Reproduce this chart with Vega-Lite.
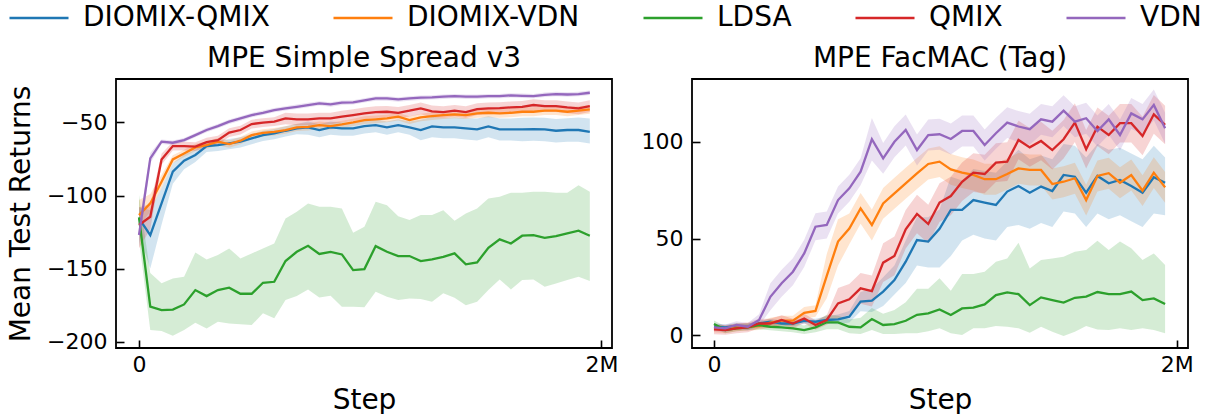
{
"$schema": "https://vega.github.io/schema/vega-lite/v6.json",
"padding": {"left": 6, "top": 4, "right": 0, "bottom": 0},
"bounds": "flush",
"spacing": 80,
"config": {
  "font": "DejaVu Sans",
  "view": {"stroke": "black", "strokeWidth": 1.8},
  "axis": {"domain": false, "grid": false, "tickColor": "black", "tickWidth": 1.6, "tickSize": -8, "labelFont": "DejaVu Sans", "labelFontSize": 22, "labelColor": "black", "titleFont": "DejaVu Sans", "titleFontSize": 28, "titleFontWeight": "normal", "titleColor": "black"},
  "axisX": {"labelPadding": 14, "titlePadding": 11},
  "axisY": {"labelPadding": 17, "titlePadding": 11},
  "title": {"font": "DejaVu Sans", "fontSize": 28, "fontWeight": "normal", "color": "black", "offset": 6}
},
"datasets": {"d": [
{"p":"A","m":"DIOMIX-QMIX","s":0,"y":-115.7,"lo":-126,"hi":-108},
{"p":"A","m":"DIOMIX-QMIX","s":48750,"y":-127.1,"lo":-150,"hi":-110},
{"p":"A","m":"DIOMIX-QMIX","s":97500,"y":-105.4,"lo":-120,"hi":-95},
{"p":"A","m":"DIOMIX-QMIX","s":146250,"y":-83.7,"lo":-92,"hi":-78},
{"p":"A","m":"DIOMIX-QMIX","s":195000,"y":-76.2,"lo":-82,"hi":-72},
{"p":"A","m":"DIOMIX-QMIX","s":243750,"y":-72.3,"lo":-77,"hi":-68.5},
{"p":"A","m":"DIOMIX-QMIX","s":292500,"y":-66.2,"lo":-70.2,"hi":-63.2},
{"p":"A","m":"DIOMIX-QMIX","s":341250,"y":-65.5,"lo":-69.5,"hi":-62.5},
{"p":"A","m":"DIOMIX-QMIX","s":390000,"y":-64.4,"lo":-68.4,"hi":-61.4},
{"p":"A","m":"DIOMIX-QMIX","s":438750,"y":-63.2,"lo":-67.2,"hi":-60.2},
{"p":"A","m":"DIOMIX-QMIX","s":487500,"y":-60.9,"lo":-64.9,"hi":-57.9},
{"p":"A","m":"DIOMIX-QMIX","s":536250,"y":-58.7,"lo":-62.7,"hi":-55.7},
{"p":"A","m":"DIOMIX-QMIX","s":585000,"y":-57.5,"lo":-61.5,"hi":-54.5},
{"p":"A","m":"DIOMIX-QMIX","s":633750,"y":-55.7,"lo":-59.7,"hi":-52.7},
{"p":"A","m":"DIOMIX-QMIX","s":682500,"y":-54.1,"lo":-58.1,"hi":-51.1},
{"p":"A","m":"DIOMIX-QMIX","s":731250,"y":-53.4,"lo":-58.4,"hi":-49.4},
{"p":"A","m":"DIOMIX-QMIX","s":780000,"y":-55.2,"lo":-60.2,"hi":-51.2},
{"p":"A","m":"DIOMIX-QMIX","s":828750,"y":-53.4,"lo":-58.4,"hi":-49.4},
{"p":"A","m":"DIOMIX-QMIX","s":877500,"y":-54.1,"lo":-59.1,"hi":-50.1},
{"p":"A","m":"DIOMIX-QMIX","s":926250,"y":-54.1,"lo":-59.1,"hi":-50.1},
{"p":"A","m":"DIOMIX-QMIX","s":975000,"y":-52.5,"lo":-57.5,"hi":-48.5},
{"p":"A","m":"DIOMIX-QMIX","s":1023750,"y":-51.8,"lo":-56.8,"hi":-47.8},
{"p":"A","m":"DIOMIX-QMIX","s":1072500,"y":-53.4,"lo":-58.4,"hi":-49.4},
{"p":"A","m":"DIOMIX-QMIX","s":1121250,"y":-51.8,"lo":-56.8,"hi":-47.8},
{"p":"A","m":"DIOMIX-QMIX","s":1170000,"y":-53.4,"lo":-58.4,"hi":-49.4},
{"p":"A","m":"DIOMIX-QMIX","s":1218750,"y":-55.2,"lo":-62.2,"hi":-48.2},
{"p":"A","m":"DIOMIX-QMIX","s":1267500,"y":-52.7,"lo":-60.2,"hi":-46.2},
{"p":"A","m":"DIOMIX-QMIX","s":1316250,"y":-53.4,"lo":-60.9,"hi":-46.9},
{"p":"A","m":"DIOMIX-QMIX","s":1365000,"y":-53.4,"lo":-60.9,"hi":-46.4},
{"p":"A","m":"DIOMIX-QMIX","s":1413750,"y":-54.1,"lo":-61.6,"hi":-47.1},
{"p":"A","m":"DIOMIX-QMIX","s":1462500,"y":-54.8,"lo":-62.3,"hi":-47.3},
{"p":"A","m":"DIOMIX-QMIX","s":1511250,"y":-52.7,"lo":-60.2,"hi":-45.7},
{"p":"A","m":"DIOMIX-QMIX","s":1560000,"y":-54.8,"lo":-62.3,"hi":-47.3},
{"p":"A","m":"DIOMIX-QMIX","s":1608750,"y":-54.8,"lo":-62.3,"hi":-47.3},
{"p":"A","m":"DIOMIX-QMIX","s":1657500,"y":-54.8,"lo":-62.8,"hi":-46.8},
{"p":"A","m":"DIOMIX-QMIX","s":1706250,"y":-54.6,"lo":-62.6,"hi":-46.6},
{"p":"A","m":"DIOMIX-QMIX","s":1755000,"y":-54.8,"lo":-62.8,"hi":-46.8},
{"p":"A","m":"DIOMIX-QMIX","s":1803750,"y":-55.7,"lo":-63.7,"hi":-47.7},
{"p":"A","m":"DIOMIX-QMIX","s":1852500,"y":-55.2,"lo":-63.2,"hi":-47.2},
{"p":"A","m":"DIOMIX-QMIX","s":1901250,"y":-55.2,"lo":-63.2,"hi":-46.7},
{"p":"A","m":"DIOMIX-QMIX","s":1950000,"y":-56.4,"lo":-64.4,"hi":-47.4},
{"p":"A","m":"DIOMIX-VDN","s":0,"y":-113.4,"lo":-121,"hi":-103},
{"p":"A","m":"DIOMIX-VDN","s":48750,"y":-105.4,"lo":-111,"hi":-99},
{"p":"A","m":"DIOMIX-VDN","s":97500,"y":-90.6,"lo":-95,"hi":-86},
{"p":"A","m":"DIOMIX-VDN","s":146250,"y":-75.3,"lo":-78,"hi":-72.5},
{"p":"A","m":"DIOMIX-VDN","s":195000,"y":-71.2,"lo":-73.7,"hi":-68.7},
{"p":"A","m":"DIOMIX-VDN","s":243750,"y":-67.1,"lo":-69.6,"hi":-64.6},
{"p":"A","m":"DIOMIX-VDN","s":292500,"y":-65.5,"lo":-68,"hi":-63},
{"p":"A","m":"DIOMIX-VDN","s":341250,"y":-63.2,"lo":-65.7,"hi":-60.7},
{"p":"A","m":"DIOMIX-VDN","s":390000,"y":-64.8,"lo":-67.3,"hi":-62.3},
{"p":"A","m":"DIOMIX-VDN","s":438750,"y":-62.5,"lo":-65,"hi":-60},
{"p":"A","m":"DIOMIX-VDN","s":487500,"y":-58.7,"lo":-61.2,"hi":-56.2},
{"p":"A","m":"DIOMIX-VDN","s":536250,"y":-57.1,"lo":-59.6,"hi":-54.6},
{"p":"A","m":"DIOMIX-VDN","s":585000,"y":-56.4,"lo":-58.9,"hi":-53.9},
{"p":"A","m":"DIOMIX-VDN","s":633750,"y":-55.2,"lo":-57.7,"hi":-52.7},
{"p":"A","m":"DIOMIX-VDN","s":682500,"y":-53.4,"lo":-55.9,"hi":-50.9},
{"p":"A","m":"DIOMIX-VDN","s":731250,"y":-53,"lo":-55.5,"hi":-50.5},
{"p":"A","m":"DIOMIX-VDN","s":780000,"y":-51.8,"lo":-54.3,"hi":-49.3},
{"p":"A","m":"DIOMIX-VDN","s":828750,"y":-52.5,"lo":-55,"hi":-50},
{"p":"A","m":"DIOMIX-VDN","s":877500,"y":-51.4,"lo":-53.9,"hi":-48.9},
{"p":"A","m":"DIOMIX-VDN","s":926250,"y":-50,"lo":-52.5,"hi":-47.5},
{"p":"A","m":"DIOMIX-VDN","s":975000,"y":-48.4,"lo":-51,"hi":-45.8},
{"p":"A","m":"DIOMIX-VDN","s":1023750,"y":-47.9,"lo":-50.5,"hi":-45.3},
{"p":"A","m":"DIOMIX-VDN","s":1072500,"y":-47.3,"lo":-49.9,"hi":-44.7},
{"p":"A","m":"DIOMIX-VDN","s":1121250,"y":-46.1,"lo":-48.7,"hi":-43.5},
{"p":"A","m":"DIOMIX-VDN","s":1170000,"y":-48.4,"lo":-51,"hi":-45.8},
{"p":"A","m":"DIOMIX-VDN","s":1218750,"y":-46.6,"lo":-49.2,"hi":-44},
{"p":"A","m":"DIOMIX-VDN","s":1267500,"y":-45.7,"lo":-48.3,"hi":-43.1},
{"p":"A","m":"DIOMIX-VDN","s":1316250,"y":-45,"lo":-47.6,"hi":-42.4},
{"p":"A","m":"DIOMIX-VDN","s":1365000,"y":-44.5,"lo":-47.1,"hi":-41.9},
{"p":"A","m":"DIOMIX-VDN","s":1413750,"y":-45,"lo":-47.6,"hi":-42.4},
{"p":"A","m":"DIOMIX-VDN","s":1462500,"y":-43.8,"lo":-46.8,"hi":-40.8},
{"p":"A","m":"DIOMIX-VDN","s":1511250,"y":-43.4,"lo":-46.4,"hi":-40.4},
{"p":"A","m":"DIOMIX-VDN","s":1560000,"y":-43.8,"lo":-46.8,"hi":-40.8},
{"p":"A","m":"DIOMIX-VDN","s":1608750,"y":-43.4,"lo":-46.4,"hi":-40.4},
{"p":"A","m":"DIOMIX-VDN","s":1657500,"y":-42.7,"lo":-45.7,"hi":-39.7},
{"p":"A","m":"DIOMIX-VDN","s":1706250,"y":-42.7,"lo":-45.7,"hi":-39.7},
{"p":"A","m":"DIOMIX-VDN","s":1755000,"y":-42,"lo":-45,"hi":-39},
{"p":"A","m":"DIOMIX-VDN","s":1803750,"y":-42,"lo":-45,"hi":-39},
{"p":"A","m":"DIOMIX-VDN","s":1852500,"y":-42.7,"lo":-45.7,"hi":-39.7},
{"p":"A","m":"DIOMIX-VDN","s":1901250,"y":-42,"lo":-45,"hi":-39},
{"p":"A","m":"DIOMIX-VDN","s":1950000,"y":-41.1,"lo":-44.1,"hi":-38.1},
{"p":"A","m":"LDSA","s":0,"y":-115,"lo":-130,"hi":-99.7},
{"p":"A","m":"LDSA","s":48750,"y":-176,"lo":-192,"hi":-153},
{"p":"A","m":"LDSA","s":97500,"y":-178.4,"lo":-192.7,"hi":-160},
{"p":"A","m":"LDSA","s":146250,"y":-178,"lo":-196,"hi":-156.7},
{"p":"A","m":"LDSA","s":195000,"y":-174.5,"lo":-192,"hi":-155.6},
{"p":"A","m":"LDSA","s":243750,"y":-164.7,"lo":-187,"hi":-139},
{"p":"A","m":"LDSA","s":292500,"y":-168.8,"lo":-190.9,"hi":-143.7},
{"p":"A","m":"LDSA","s":341250,"y":-164.7,"lo":-186.3,"hi":-140.7},
{"p":"A","m":"LDSA","s":390000,"y":-163,"lo":-187.5,"hi":-136.2},
{"p":"A","m":"LDSA","s":438750,"y":-167.2,"lo":-188,"hi":-143},
{"p":"A","m":"LDSA","s":487500,"y":-167.2,"lo":-188.6,"hi":-139.6},
{"p":"A","m":"LDSA","s":536250,"y":-159.7,"lo":-180.6,"hi":-136.2},
{"p":"A","m":"LDSA","s":585000,"y":-159,"lo":-184,"hi":-132.8},
{"p":"A","m":"LDSA","s":633750,"y":-144.8,"lo":-171.5,"hi":-115.7},
{"p":"A","m":"LDSA","s":682500,"y":-138.5,"lo":-168.8,"hi":-111.1},
{"p":"A","m":"LDSA","s":731250,"y":-134.4,"lo":-164.2,"hi":-105.4},
{"p":"A","m":"LDSA","s":780000,"y":-140,"lo":-169.7,"hi":-107.7},
{"p":"A","m":"LDSA","s":828750,"y":-138.5,"lo":-168.6,"hi":-107.7},
{"p":"A","m":"LDSA","s":877500,"y":-140.3,"lo":-176.1,"hi":-108.8},
{"p":"A","m":"LDSA","s":926250,"y":-151,"lo":-176.1,"hi":-125.5},
{"p":"A","m":"LDSA","s":975000,"y":-150.3,"lo":-176.4,"hi":-121.4},
{"p":"A","m":"LDSA","s":1023750,"y":-134.6,"lo":-165.8,"hi":-104.3},
{"p":"A","m":"LDSA","s":1072500,"y":-138.5,"lo":-169.2,"hi":-106.6},
{"p":"A","m":"LDSA","s":1121250,"y":-141.4,"lo":-171.5,"hi":-114.1},
{"p":"A","m":"LDSA","s":1170000,"y":-141.4,"lo":-170.4,"hi":-116.8},
{"p":"A","m":"LDSA","s":1218750,"y":-144.8,"lo":-170.8,"hi":-113.4},
{"p":"A","m":"LDSA","s":1267500,"y":-143.7,"lo":-172.7,"hi":-113.4},
{"p":"A","m":"LDSA","s":1316250,"y":-141.9,"lo":-166.9,"hi":-110},
{"p":"A","m":"LDSA","s":1365000,"y":-139.6,"lo":-169.9,"hi":-117.3},
{"p":"A","m":"LDSA","s":1413750,"y":-147.1,"lo":-175,"hi":-112.3},
{"p":"A","m":"LDSA","s":1462500,"y":-145.8,"lo":-172.7,"hi":-108.8},
{"p":"A","m":"LDSA","s":1511250,"y":-135.7,"lo":-164.7,"hi":-102},
{"p":"A","m":"LDSA","s":1560000,"y":-130,"lo":-157.4,"hi":-100.9},
{"p":"A","m":"LDSA","s":1608750,"y":-132.8,"lo":-164.2,"hi":-98.1},
{"p":"A","m":"LDSA","s":1657500,"y":-127.5,"lo":-157.8,"hi":-98.1},
{"p":"A","m":"LDSA","s":1706250,"y":-127.1,"lo":-157.4,"hi":-97.4},
{"p":"A","m":"LDSA","s":1755000,"y":-128.9,"lo":-162.4,"hi":-97.4},
{"p":"A","m":"LDSA","s":1803750,"y":-127.7,"lo":-160.1,"hi":-98.1},
{"p":"A","m":"LDSA","s":1852500,"y":-125.9,"lo":-157.8,"hi":-98.1},
{"p":"A","m":"LDSA","s":1901250,"y":-124.1,"lo":-155.6,"hi":-92.9},
{"p":"A","m":"LDSA","s":1950000,"y":-127.5,"lo":-158.5,"hi":-97.4},
{"p":"A","m":"QMIX","s":0,"y":-120.2,"lo":-136,"hi":-108},
{"p":"A","m":"QMIX","s":48750,"y":-114.5,"lo":-123,"hi":-106},
{"p":"A","m":"QMIX","s":97500,"y":-75.3,"lo":-79,"hi":-71.5},
{"p":"A","m":"QMIX","s":146250,"y":-66.2,"lo":-69.2,"hi":-63.2},
{"p":"A","m":"QMIX","s":195000,"y":-66.2,"lo":-69.2,"hi":-63.2},
{"p":"A","m":"QMIX","s":243750,"y":-66.6,"lo":-69.6,"hi":-63.6},
{"p":"A","m":"QMIX","s":292500,"y":-63.5,"lo":-66.5,"hi":-60.5},
{"p":"A","m":"QMIX","s":341250,"y":-62.1,"lo":-65.1,"hi":-59.1},
{"p":"A","m":"QMIX","s":390000,"y":-57,"lo":-60,"hi":-54},
{"p":"A","m":"QMIX","s":438750,"y":-55.2,"lo":-58.2,"hi":-52.2},
{"p":"A","m":"QMIX","s":487500,"y":-51.1,"lo":-54.1,"hi":-48.1},
{"p":"A","m":"QMIX","s":536250,"y":-50.2,"lo":-53.2,"hi":-47.2},
{"p":"A","m":"QMIX","s":585000,"y":-49.5,"lo":-52.5,"hi":-46.5},
{"p":"A","m":"QMIX","s":633750,"y":-47.3,"lo":-51.3,"hi":-43.3},
{"p":"A","m":"QMIX","s":682500,"y":-47.9,"lo":-51.9,"hi":-43.9},
{"p":"A","m":"QMIX","s":731250,"y":-47.9,"lo":-51.9,"hi":-43.9},
{"p":"A","m":"QMIX","s":780000,"y":-47.3,"lo":-51.3,"hi":-43.3},
{"p":"A","m":"QMIX","s":828750,"y":-47.3,"lo":-51.3,"hi":-43.3},
{"p":"A","m":"QMIX","s":877500,"y":-46.1,"lo":-50.1,"hi":-42.1},
{"p":"A","m":"QMIX","s":926250,"y":-45,"lo":-49,"hi":-41},
{"p":"A","m":"QMIX","s":975000,"y":-43.8,"lo":-47.8,"hi":-39.8},
{"p":"A","m":"QMIX","s":1023750,"y":-42.9,"lo":-46.9,"hi":-38.9},
{"p":"A","m":"QMIX","s":1072500,"y":-42.7,"lo":-46.7,"hi":-38.7},
{"p":"A","m":"QMIX","s":1121250,"y":-43.4,"lo":-47.4,"hi":-39.4},
{"p":"A","m":"QMIX","s":1170000,"y":-42,"lo":-46,"hi":-38},
{"p":"A","m":"QMIX","s":1218750,"y":-40.4,"lo":-44.4,"hi":-36.4},
{"p":"A","m":"QMIX","s":1267500,"y":-42.5,"lo":-46.5,"hi":-38.5},
{"p":"A","m":"QMIX","s":1316250,"y":-42.9,"lo":-46.9,"hi":-38.9},
{"p":"A","m":"QMIX","s":1365000,"y":-42,"lo":-46,"hi":-38},
{"p":"A","m":"QMIX","s":1413750,"y":-42.9,"lo":-46.9,"hi":-38.9},
{"p":"A","m":"QMIX","s":1462500,"y":-40.9,"lo":-44.9,"hi":-36.9},
{"p":"A","m":"QMIX","s":1511250,"y":-40.4,"lo":-44.4,"hi":-36.4},
{"p":"A","m":"QMIX","s":1560000,"y":-40.2,"lo":-44.2,"hi":-36.2},
{"p":"A","m":"QMIX","s":1608750,"y":-39.7,"lo":-43.7,"hi":-35.7},
{"p":"A","m":"QMIX","s":1657500,"y":-39.3,"lo":-43.3,"hi":-35.3},
{"p":"A","m":"QMIX","s":1706250,"y":-38.1,"lo":-42.1,"hi":-34.1},
{"p":"A","m":"QMIX","s":1755000,"y":-38.8,"lo":-42.8,"hi":-34.8},
{"p":"A","m":"QMIX","s":1803750,"y":-38.8,"lo":-42.8,"hi":-34.8},
{"p":"A","m":"QMIX","s":1852500,"y":-39.7,"lo":-43.7,"hi":-35.7},
{"p":"A","m":"QMIX","s":1901250,"y":-40.4,"lo":-44.4,"hi":-36.4},
{"p":"A","m":"QMIX","s":1950000,"y":-38.8,"lo":-42.8,"hi":-34.8},
{"p":"A","m":"VDN","s":0,"y":-127,"lo":-135,"hi":-119},
{"p":"A","m":"VDN","s":48750,"y":-74.6,"lo":-78,"hi":-71},
{"p":"A","m":"VDN","s":97500,"y":-63.2,"lo":-64.7,"hi":-61.7},
{"p":"A","m":"VDN","s":146250,"y":-63.9,"lo":-65.4,"hi":-62.4},
{"p":"A","m":"VDN","s":195000,"y":-62.1,"lo":-63.6,"hi":-60.6},
{"p":"A","m":"VDN","s":243750,"y":-58.7,"lo":-60.2,"hi":-57.2},
{"p":"A","m":"VDN","s":292500,"y":-55.2,"lo":-56.7,"hi":-53.7},
{"p":"A","m":"VDN","s":341250,"y":-52.5,"lo":-54,"hi":-51},
{"p":"A","m":"VDN","s":390000,"y":-49.5,"lo":-51,"hi":-48},
{"p":"A","m":"VDN","s":438750,"y":-47.3,"lo":-48.8,"hi":-45.8},
{"p":"A","m":"VDN","s":487500,"y":-45,"lo":-46.5,"hi":-43.5},
{"p":"A","m":"VDN","s":536250,"y":-43.4,"lo":-44.9,"hi":-41.9},
{"p":"A","m":"VDN","s":585000,"y":-41.6,"lo":-43.1,"hi":-40.1},
{"p":"A","m":"VDN","s":633750,"y":-40.4,"lo":-41.9,"hi":-38.9},
{"p":"A","m":"VDN","s":682500,"y":-39.3,"lo":-40.8,"hi":-37.8},
{"p":"A","m":"VDN","s":731250,"y":-38.1,"lo":-39.6,"hi":-36.6},
{"p":"A","m":"VDN","s":780000,"y":-37,"lo":-38.5,"hi":-35.5},
{"p":"A","m":"VDN","s":828750,"y":-37.7,"lo":-39.2,"hi":-36.2},
{"p":"A","m":"VDN","s":877500,"y":-36.5,"lo":-38,"hi":-35},
{"p":"A","m":"VDN","s":926250,"y":-36.3,"lo":-37.8,"hi":-34.8},
{"p":"A","m":"VDN","s":975000,"y":-34.9,"lo":-36.4,"hi":-33.4},
{"p":"A","m":"VDN","s":1023750,"y":-33.6,"lo":-35.1,"hi":-32.1},
{"p":"A","m":"VDN","s":1072500,"y":-33.6,"lo":-35.1,"hi":-32.1},
{"p":"A","m":"VDN","s":1121250,"y":-34.3,"lo":-35.8,"hi":-32.8},
{"p":"A","m":"VDN","s":1170000,"y":-33.6,"lo":-35.1,"hi":-32.1},
{"p":"A","m":"VDN","s":1218750,"y":-33.1,"lo":-34.6,"hi":-31.6},
{"p":"A","m":"VDN","s":1267500,"y":-32.9,"lo":-34.4,"hi":-31.4},
{"p":"A","m":"VDN","s":1316250,"y":-32.4,"lo":-33.9,"hi":-30.9},
{"p":"A","m":"VDN","s":1365000,"y":-32,"lo":-33.5,"hi":-30.5},
{"p":"A","m":"VDN","s":1413750,"y":-32.4,"lo":-33.9,"hi":-30.9},
{"p":"A","m":"VDN","s":1462500,"y":-32.4,"lo":-33.9,"hi":-30.9},
{"p":"A","m":"VDN","s":1511250,"y":-32,"lo":-33.5,"hi":-30.5},
{"p":"A","m":"VDN","s":1560000,"y":-32,"lo":-33.5,"hi":-30.5},
{"p":"A","m":"VDN","s":1608750,"y":-31.5,"lo":-33,"hi":-30},
{"p":"A","m":"VDN","s":1657500,"y":-31.8,"lo":-33.3,"hi":-30.3},
{"p":"A","m":"VDN","s":1706250,"y":-32,"lo":-33.5,"hi":-30.5},
{"p":"A","m":"VDN","s":1755000,"y":-31.1,"lo":-32.6,"hi":-29.6},
{"p":"A","m":"VDN","s":1803750,"y":-30.6,"lo":-32.1,"hi":-29.1},
{"p":"A","m":"VDN","s":1852500,"y":-30.9,"lo":-32.4,"hi":-29.4},
{"p":"A","m":"VDN","s":1901250,"y":-30.6,"lo":-32.1,"hi":-29.1},
{"p":"A","m":"VDN","s":1950000,"y":-29.7,"lo":-31.2,"hi":-28.2},
{"p":"B","m":"DIOMIX-QMIX","s":0,"y":4.3,"lo":2.8,"hi":5.8},
{"p":"B","m":"DIOMIX-QMIX","s":48750,"y":4,"lo":2.5,"hi":5.5},
{"p":"B","m":"DIOMIX-QMIX","s":97500,"y":4.7,"lo":3.2,"hi":6.2},
{"p":"B","m":"DIOMIX-QMIX","s":146250,"y":4.3,"lo":2.8,"hi":5.8},
{"p":"B","m":"DIOMIX-QMIX","s":195000,"y":6,"lo":4.5,"hi":7.5},
{"p":"B","m":"DIOMIX-QMIX","s":243750,"y":6.9,"lo":5.4,"hi":8.4},
{"p":"B","m":"DIOMIX-QMIX","s":292500,"y":6,"lo":4.5,"hi":7.5},
{"p":"B","m":"DIOMIX-QMIX","s":341250,"y":6,"lo":4.5,"hi":7.5},
{"p":"B","m":"DIOMIX-QMIX","s":390000,"y":7.3,"lo":5.8,"hi":8.8},
{"p":"B","m":"DIOMIX-QMIX","s":438750,"y":6.9,"lo":5.4,"hi":8.4},
{"p":"B","m":"DIOMIX-QMIX","s":487500,"y":7.8,"lo":5.8,"hi":9.8},
{"p":"B","m":"DIOMIX-QMIX","s":536250,"y":8.1,"lo":5.6,"hi":10.6},
{"p":"B","m":"DIOMIX-QMIX","s":585000,"y":9.5,"lo":6.5,"hi":12.5},
{"p":"B","m":"DIOMIX-QMIX","s":633750,"y":17.3,"lo":12.3,"hi":22.3},
{"p":"B","m":"DIOMIX-QMIX","s":682500,"y":17.8,"lo":12,"hi":24},
{"p":"B","m":"DIOMIX-QMIX","s":731250,"y":22.5,"lo":15,"hi":30},
{"p":"B","m":"DIOMIX-QMIX","s":780000,"y":28.5,"lo":21,"hi":36},
{"p":"B","m":"DIOMIX-QMIX","s":828750,"y":38,"lo":27,"hi":49},
{"p":"B","m":"DIOMIX-QMIX","s":877500,"y":49.2,"lo":36,"hi":61},
{"p":"B","m":"DIOMIX-QMIX","s":926250,"y":48.4,"lo":35,"hi":61},
{"p":"B","m":"DIOMIX-QMIX","s":975000,"y":55,"lo":35,"hi":65},
{"p":"B","m":"DIOMIX-QMIX","s":1023750,"y":64.8,"lo":41,"hi":82},
{"p":"B","m":"DIOMIX-QMIX","s":1072500,"y":64.8,"lo":49,"hi":80},
{"p":"B","m":"DIOMIX-QMIX","s":1121250,"y":69.9,"lo":52,"hi":86},
{"p":"B","m":"DIOMIX-QMIX","s":1170000,"y":68.6,"lo":50,"hi":85},
{"p":"B","m":"DIOMIX-QMIX","s":1218750,"y":67.4,"lo":49,"hi":84},
{"p":"B","m":"DIOMIX-QMIX","s":1267500,"y":74.3,"lo":56,"hi":90},
{"p":"B","m":"DIOMIX-QMIX","s":1316250,"y":77.2,"lo":57,"hi":96},
{"p":"B","m":"DIOMIX-QMIX","s":1365000,"y":73.7,"lo":55,"hi":91},
{"p":"B","m":"DIOMIX-QMIX","s":1413750,"y":76.9,"lo":58,"hi":93},
{"p":"B","m":"DIOMIX-QMIX","s":1462500,"y":74.6,"lo":56,"hi":91},
{"p":"B","m":"DIOMIX-QMIX","s":1511250,"y":82.9,"lo":64,"hi":99},
{"p":"B","m":"DIOMIX-QMIX","s":1560000,"y":82,"lo":63,"hi":98},
{"p":"B","m":"DIOMIX-QMIX","s":1608750,"y":73.7,"lo":56,"hi":92},
{"p":"B","m":"DIOMIX-QMIX","s":1657500,"y":82.4,"lo":63,"hi":99},
{"p":"B","m":"DIOMIX-QMIX","s":1706250,"y":78.6,"lo":60,"hi":96},
{"p":"B","m":"DIOMIX-QMIX","s":1755000,"y":80.3,"lo":62,"hi":97},
{"p":"B","m":"DIOMIX-QMIX","s":1803750,"y":77.2,"lo":59,"hi":94},
{"p":"B","m":"DIOMIX-QMIX","s":1852500,"y":73.7,"lo":56,"hi":91},
{"p":"B","m":"DIOMIX-QMIX","s":1901250,"y":81.7,"lo":63,"hi":98},
{"p":"B","m":"DIOMIX-QMIX","s":1950000,"y":78.9,"lo":62,"hi":92},
{"p":"B","m":"DIOMIX-VDN","s":0,"y":3.5,"lo":1.5,"hi":5.5},
{"p":"B","m":"DIOMIX-VDN","s":48750,"y":2.9,"lo":0.9,"hi":4.9},
{"p":"B","m":"DIOMIX-VDN","s":97500,"y":4,"lo":2,"hi":6},
{"p":"B","m":"DIOMIX-VDN","s":146250,"y":4.3,"lo":2.3,"hi":6.3},
{"p":"B","m":"DIOMIX-VDN","s":195000,"y":4.6,"lo":2.6,"hi":6.6},
{"p":"B","m":"DIOMIX-VDN","s":243750,"y":6.5,"lo":4,"hi":9},
{"p":"B","m":"DIOMIX-VDN","s":292500,"y":7.5,"lo":5,"hi":10},
{"p":"B","m":"DIOMIX-VDN","s":341250,"y":7.5,"lo":5,"hi":10},
{"p":"B","m":"DIOMIX-VDN","s":390000,"y":11.5,"lo":8.5,"hi":14.5},
{"p":"B","m":"DIOMIX-VDN","s":438750,"y":12.5,"lo":9.5,"hi":15.5},
{"p":"B","m":"DIOMIX-VDN","s":487500,"y":30.7,"lo":19,"hi":42},
{"p":"B","m":"DIOMIX-VDN","s":536250,"y":48.4,"lo":36,"hi":60},
{"p":"B","m":"DIOMIX-VDN","s":585000,"y":55.2,"lo":47,"hi":63},
{"p":"B","m":"DIOMIX-VDN","s":633750,"y":65.6,"lo":57.6,"hi":73.6},
{"p":"B","m":"DIOMIX-VDN","s":682500,"y":57,"lo":49,"hi":65},
{"p":"B","m":"DIOMIX-VDN","s":731250,"y":68.2,"lo":60.2,"hi":76.2},
{"p":"B","m":"DIOMIX-VDN","s":780000,"y":73.4,"lo":65.4,"hi":81.4},
{"p":"B","m":"DIOMIX-VDN","s":828750,"y":78.6,"lo":70.6,"hi":86.6},
{"p":"B","m":"DIOMIX-VDN","s":877500,"y":83.7,"lo":75.7,"hi":91.7},
{"p":"B","m":"DIOMIX-VDN","s":926250,"y":88.6,"lo":80.6,"hi":96.6},
{"p":"B","m":"DIOMIX-VDN","s":975000,"y":89.8,"lo":81.8,"hi":97.8},
{"p":"B","m":"DIOMIX-VDN","s":1023750,"y":85.8,"lo":77.8,"hi":93.8},
{"p":"B","m":"DIOMIX-VDN","s":1072500,"y":84.1,"lo":76.1,"hi":92.1},
{"p":"B","m":"DIOMIX-VDN","s":1121250,"y":82.9,"lo":74.9,"hi":90.9},
{"p":"B","m":"DIOMIX-VDN","s":1170000,"y":80.7,"lo":72.7,"hi":88.7},
{"p":"B","m":"DIOMIX-VDN","s":1218750,"y":80.7,"lo":72.7,"hi":88.7},
{"p":"B","m":"DIOMIX-VDN","s":1267500,"y":83.4,"lo":75.4,"hi":91.4},
{"p":"B","m":"DIOMIX-VDN","s":1316250,"y":86.3,"lo":78.3,"hi":94.3},
{"p":"B","m":"DIOMIX-VDN","s":1365000,"y":85.5,"lo":77.5,"hi":93.5},
{"p":"B","m":"DIOMIX-VDN","s":1413750,"y":85.5,"lo":77.5,"hi":93.5},
{"p":"B","m":"DIOMIX-VDN","s":1462500,"y":78.2,"lo":70.2,"hi":86.2},
{"p":"B","m":"DIOMIX-VDN","s":1511250,"y":79.4,"lo":71.4,"hi":87.4},
{"p":"B","m":"DIOMIX-VDN","s":1560000,"y":81.2,"lo":73.2,"hi":89.2},
{"p":"B","m":"DIOMIX-VDN","s":1608750,"y":69.9,"lo":61.9,"hi":77.9},
{"p":"B","m":"DIOMIX-VDN","s":1657500,"y":82.4,"lo":74.4,"hi":90.4},
{"p":"B","m":"DIOMIX-VDN","s":1706250,"y":83.8,"lo":75.8,"hi":91.8},
{"p":"B","m":"DIOMIX-VDN","s":1755000,"y":78.9,"lo":70.9,"hi":86.9},
{"p":"B","m":"DIOMIX-VDN","s":1803750,"y":82.9,"lo":74.9,"hi":90.9},
{"p":"B","m":"DIOMIX-VDN","s":1852500,"y":74.8,"lo":66.8,"hi":82.8},
{"p":"B","m":"DIOMIX-VDN","s":1901250,"y":84.1,"lo":76.1,"hi":92.1},
{"p":"B","m":"DIOMIX-VDN","s":1950000,"y":76.5,"lo":68.5,"hi":84.5},
{"p":"B","m":"LDSA","s":0,"y":5.7,"lo":3.5,"hi":7.5},
{"p":"B","m":"LDSA","s":48750,"y":2.6,"lo":1,"hi":4.5},
{"p":"B","m":"LDSA","s":97500,"y":3.5,"lo":2,"hi":5.5},
{"p":"B","m":"LDSA","s":146250,"y":4,"lo":2.5,"hi":6},
{"p":"B","m":"LDSA","s":195000,"y":5.2,"lo":3,"hi":7},
{"p":"B","m":"LDSA","s":243750,"y":4.3,"lo":2.5,"hi":6.5},
{"p":"B","m":"LDSA","s":292500,"y":4,"lo":2,"hi":6.5},
{"p":"B","m":"LDSA","s":341250,"y":3.5,"lo":1.5,"hi":6},
{"p":"B","m":"LDSA","s":390000,"y":2.6,"lo":0.5,"hi":5},
{"p":"B","m":"LDSA","s":438750,"y":4,"lo":1.5,"hi":7},
{"p":"B","m":"LDSA","s":487500,"y":6.6,"lo":3,"hi":10.5},
{"p":"B","m":"LDSA","s":536250,"y":6.6,"lo":3,"hi":10},
{"p":"B","m":"LDSA","s":585000,"y":4.3,"lo":1,"hi":8},
{"p":"B","m":"LDSA","s":633750,"y":4,"lo":0.5,"hi":9},
{"p":"B","m":"LDSA","s":682500,"y":8.3,"lo":2.6,"hi":14},
{"p":"B","m":"LDSA","s":731250,"y":5.2,"lo":0.5,"hi":11},
{"p":"B","m":"LDSA","s":780000,"y":5.7,"lo":0.5,"hi":13},
{"p":"B","m":"LDSA","s":828750,"y":7.4,"lo":1,"hi":17},
{"p":"B","m":"LDSA","s":877500,"y":10.5,"lo":1,"hi":24},
{"p":"B","m":"LDSA","s":926250,"y":11.2,"lo":2,"hi":24},
{"p":"B","m":"LDSA","s":975000,"y":13.3,"lo":3.5,"hi":29.4},
{"p":"B","m":"LDSA","s":1023750,"y":10.4,"lo":0.9,"hi":23},
{"p":"B","m":"LDSA","s":1072500,"y":13.8,"lo":0,"hi":31.6},
{"p":"B","m":"LDSA","s":1121250,"y":14.2,"lo":3.5,"hi":31.6},
{"p":"B","m":"LDSA","s":1170000,"y":15.9,"lo":3.5,"hi":32.8},
{"p":"B","m":"LDSA","s":1218750,"y":20.7,"lo":4.7,"hi":38},
{"p":"B","m":"LDSA","s":1267500,"y":22.1,"lo":4.3,"hi":39.7},
{"p":"B","m":"LDSA","s":1316250,"y":21.2,"lo":3.5,"hi":47.8},
{"p":"B","m":"LDSA","s":1365000,"y":15.5,"lo":1.2,"hi":34.5},
{"p":"B","m":"LDSA","s":1413750,"y":19.5,"lo":4.3,"hi":38.9},
{"p":"B","m":"LDSA","s":1462500,"y":18.1,"lo":1.7,"hi":39.7},
{"p":"B","m":"LDSA","s":1511250,"y":16.8,"lo":-0.5,"hi":40.6},
{"p":"B","m":"LDSA","s":1560000,"y":19.3,"lo":1.7,"hi":43.2},
{"p":"B","m":"LDSA","s":1608750,"y":19.9,"lo":4.7,"hi":44},
{"p":"B","m":"LDSA","s":1657500,"y":22.3,"lo":2.9,"hi":48.9},
{"p":"B","m":"LDSA","s":1706250,"y":21.2,"lo":2.6,"hi":44},
{"p":"B","m":"LDSA","s":1755000,"y":21.2,"lo":3.5,"hi":48.4},
{"p":"B","m":"LDSA","s":1803750,"y":22.5,"lo":2.6,"hi":44.9},
{"p":"B","m":"LDSA","s":1852500,"y":18.1,"lo":3.5,"hi":38.9},
{"p":"B","m":"LDSA","s":1901250,"y":19,"lo":2.6,"hi":42.3},
{"p":"B","m":"LDSA","s":1950000,"y":16.1,"lo":0.9,"hi":36.3},
{"p":"B","m":"QMIX","s":0,"y":2.9,"lo":0.4,"hi":5.4},
{"p":"B","m":"QMIX","s":48750,"y":2.6,"lo":0.1,"hi":5.1},
{"p":"B","m":"QMIX","s":97500,"y":3.5,"lo":1,"hi":6},
{"p":"B","m":"QMIX","s":146250,"y":4,"lo":1.5,"hi":6.5},
{"p":"B","m":"QMIX","s":195000,"y":6,"lo":3.5,"hi":8.5},
{"p":"B","m":"QMIX","s":243750,"y":6,"lo":3.5,"hi":8.5},
{"p":"B","m":"QMIX","s":292500,"y":7.8,"lo":5.3,"hi":10.3},
{"p":"B","m":"QMIX","s":341250,"y":6,"lo":3.5,"hi":8.5},
{"p":"B","m":"QMIX","s":390000,"y":8.6,"lo":6.1,"hi":11.1},
{"p":"B","m":"QMIX","s":438750,"y":5.2,"lo":2.7,"hi":7.7},
{"p":"B","m":"QMIX","s":487500,"y":7.8,"lo":5.3,"hi":10.3},
{"p":"B","m":"QMIX","s":536250,"y":16.4,"lo":8.4,"hi":24.4},
{"p":"B","m":"QMIX","s":585000,"y":18.5,"lo":10.5,"hi":26.5},
{"p":"B","m":"QMIX","s":633750,"y":24.2,"lo":16.2,"hi":32.2},
{"p":"B","m":"QMIX","s":682500,"y":22.8,"lo":14.8,"hi":30.8},
{"p":"B","m":"QMIX","s":731250,"y":37.5,"lo":27.5,"hi":47.5},
{"p":"B","m":"QMIX","s":780000,"y":41,"lo":31,"hi":51},
{"p":"B","m":"QMIX","s":828750,"y":54.8,"lo":44.8,"hi":64.8},
{"p":"B","m":"QMIX","s":877500,"y":62.7,"lo":52.7,"hi":72.7},
{"p":"B","m":"QMIX","s":926250,"y":57.5,"lo":47.5,"hi":67.5},
{"p":"B","m":"QMIX","s":975000,"y":68.6,"lo":58.6,"hi":78.6},
{"p":"B","m":"QMIX","s":1023750,"y":72,"lo":62,"hi":82},
{"p":"B","m":"QMIX","s":1072500,"y":79.4,"lo":69.4,"hi":89.4},
{"p":"B","m":"QMIX","s":1121250,"y":84.1,"lo":74.1,"hi":94.1},
{"p":"B","m":"QMIX","s":1170000,"y":83.4,"lo":73.4,"hi":93.4},
{"p":"B","m":"QMIX","s":1218750,"y":89.3,"lo":79.3,"hi":99.3},
{"p":"B","m":"QMIX","s":1267500,"y":89.8,"lo":79.8,"hi":99.8},
{"p":"B","m":"QMIX","s":1316250,"y":101,"lo":91,"hi":111},
{"p":"B","m":"QMIX","s":1365000,"y":97.2,"lo":87.2,"hi":107.2},
{"p":"B","m":"QMIX","s":1413750,"y":100.5,"lo":90.5,"hi":110.5},
{"p":"B","m":"QMIX","s":1462500,"y":95.8,"lo":85.8,"hi":105.8},
{"p":"B","m":"QMIX","s":1511250,"y":101.4,"lo":91.4,"hi":111.4},
{"p":"B","m":"QMIX","s":1560000,"y":110,"lo":100,"hi":120},
{"p":"B","m":"QMIX","s":1608750,"y":96.2,"lo":86.2,"hi":106.2},
{"p":"B","m":"QMIX","s":1657500,"y":107.9,"lo":97.9,"hi":117.9},
{"p":"B","m":"QMIX","s":1706250,"y":103.6,"lo":93.6,"hi":113.6},
{"p":"B","m":"QMIX","s":1755000,"y":109.7,"lo":99.7,"hi":119.7},
{"p":"B","m":"QMIX","s":1803750,"y":109.7,"lo":99.7,"hi":119.7},
{"p":"B","m":"QMIX","s":1852500,"y":103.1,"lo":93.1,"hi":113.1},
{"p":"B","m":"QMIX","s":1901250,"y":114.3,"lo":104.3,"hi":124.3},
{"p":"B","m":"QMIX","s":1950000,"y":108.8,"lo":98.8,"hi":118.8},
{"p":"B","m":"VDN","s":0,"y":4,"lo":2,"hi":6},
{"p":"B","m":"VDN","s":48750,"y":3.5,"lo":1.5,"hi":5.5},
{"p":"B","m":"VDN","s":97500,"y":5.2,"lo":3.2,"hi":7.2},
{"p":"B","m":"VDN","s":146250,"y":4.3,"lo":2.3,"hi":6.3},
{"p":"B","m":"VDN","s":195000,"y":7.8,"lo":4.8,"hi":10.8},
{"p":"B","m":"VDN","s":243750,"y":19.8,"lo":12.8,"hi":26.8},
{"p":"B","m":"VDN","s":292500,"y":26.8,"lo":19.8,"hi":33.8},
{"p":"B","m":"VDN","s":341250,"y":32.8,"lo":25.8,"hi":39.8},
{"p":"B","m":"VDN","s":390000,"y":42.3,"lo":35.3,"hi":49.3},
{"p":"B","m":"VDN","s":438750,"y":56.1,"lo":49.1,"hi":63.1},
{"p":"B","m":"VDN","s":487500,"y":57,"lo":50,"hi":64},
{"p":"B","m":"VDN","s":536250,"y":69.9,"lo":62.9,"hi":76.9},
{"p":"B","m":"VDN","s":585000,"y":76,"lo":69,"hi":83},
{"p":"B","m":"VDN","s":633750,"y":84.6,"lo":77.6,"hi":91.6},
{"p":"B","m":"VDN","s":682500,"y":101.4,"lo":90.4,"hi":112.4},
{"p":"B","m":"VDN","s":731250,"y":91.5,"lo":83.5,"hi":99.5},
{"p":"B","m":"VDN","s":780000,"y":100.1,"lo":92.1,"hi":108.1},
{"p":"B","m":"VDN","s":828750,"y":106.2,"lo":98.2,"hi":114.2},
{"p":"B","m":"VDN","s":877500,"y":95.8,"lo":87.8,"hi":103.8},
{"p":"B","m":"VDN","s":926250,"y":103.6,"lo":95.6,"hi":111.6},
{"p":"B","m":"VDN","s":975000,"y":104,"lo":96,"hi":112},
{"p":"B","m":"VDN","s":1023750,"y":101.5,"lo":93.5,"hi":109.5},
{"p":"B","m":"VDN","s":1072500,"y":105.7,"lo":97.7,"hi":113.7},
{"p":"B","m":"VDN","s":1121250,"y":105.7,"lo":97.7,"hi":113.7},
{"p":"B","m":"VDN","s":1170000,"y":98.4,"lo":90.4,"hi":106.4},
{"p":"B","m":"VDN","s":1218750,"y":104.5,"lo":96.5,"hi":112.5},
{"p":"B","m":"VDN","s":1267500,"y":110,"lo":102,"hi":118},
{"p":"B","m":"VDN","s":1316250,"y":108,"lo":100,"hi":116},
{"p":"B","m":"VDN","s":1365000,"y":106.6,"lo":98.6,"hi":114.6},
{"p":"B","m":"VDN","s":1413750,"y":111.7,"lo":103.7,"hi":119.7},
{"p":"B","m":"VDN","s":1462500,"y":110.5,"lo":102.5,"hi":118.5},
{"p":"B","m":"VDN","s":1511250,"y":116.2,"lo":108.2,"hi":124.2},
{"p":"B","m":"VDN","s":1560000,"y":110.5,"lo":102.5,"hi":118.5},
{"p":"B","m":"VDN","s":1608750,"y":112.3,"lo":104.3,"hi":120.3},
{"p":"B","m":"VDN","s":1657500,"y":105.7,"lo":97.7,"hi":113.7},
{"p":"B","m":"VDN","s":1706250,"y":111.7,"lo":103.7,"hi":119.7},
{"p":"B","m":"VDN","s":1755000,"y":103.6,"lo":95.6,"hi":111.6},
{"p":"B","m":"VDN","s":1803750,"y":114.8,"lo":106.8,"hi":122.8},
{"p":"B","m":"VDN","s":1852500,"y":111.7,"lo":103.7,"hi":119.7},
{"p":"B","m":"VDN","s":1901250,"y":119.2,"lo":111.2,"hi":127.2},
{"p":"B","m":"VDN","s":1950000,"y":107.1,"lo":99.1,"hi":115.1}
]},
"data": {"name": "d"},
"hconcat": [
  {
    "width": 496, "height": 269,
    "title": "MPE Simple Spread v3",
    "transform": [{"filter": "datum.p === 'A'"}],
    "encoding": {"x": {"field": "s", "type": "quantitative", "scale": {"domain": [-99500, 2046000], "nice": false, "zero": false}, "axis": {"values": [0, 2000000], "labelExpr": "datum.value === 0 ? '0' : '2M'", "title": "Step"}}},
    "layer": [
      {"mark": {"type": "area", "opacity": 0.2},
       "encoding": {
         "y": {"field": "lo", "type": "quantitative", "scale": {"domain": [-204.3, -20.3], "nice": false, "zero": false}, "axis": {"values": [-200, -150, -100, -50], "title": "Mean Test Returns"}},
         "y2": {"field": "hi"},
         "fill": {"field": "m", "type": "nominal", "scale": {"domain": ["VDN", "QMIX", "LDSA", "DIOMIX-VDN", "DIOMIX-QMIX"], "range": ["#9467bd", "#d62728", "#2ca02c", "#ff7f0e", "#1f77b4"]}, "legend": null}}},
      {"mark": {"type": "line", "strokeWidth": 2.3},
       "encoding": {
         "y": {"field": "y", "type": "quantitative", "axis": {"values": [-200, -150, -100, -50], "title": "Mean Test Returns"}},
         "stroke": {"field": "m", "type": "nominal", "scale": {"domain": ["DIOMIX-QMIX", "DIOMIX-VDN", "LDSA", "QMIX", "VDN"], "range": ["#1f77b4", "#ff7f0e", "#2ca02c", "#d62728", "#9467bd"]},
           "legend": {"title": null, "orient": "none", "legendX": -91, "legendY": -75, "direction": "horizontal", "columns": 5, "symbolType": "M-3,0H3", "symbolSize": 387, "symbolStrokeWidth": 2.5, "labelFont": "DejaVu Sans", "labelFontSize": 28, "labelColor": "black", "labelOffset": 30, "columnPadding": 58, "labelLimit": 400}}}}
    ]
  },
  {
    "width": 496, "height": 269,
    "title": "MPE FacMAC (Tag)",
    "transform": [{"filter": "datum.p === 'B'"}],
    "encoding": {"x": {"field": "s", "type": "quantitative", "scale": {"domain": [-95000, 2049000], "nice": false, "zero": false}, "axis": {"values": [0, 2000000], "labelExpr": "datum.value === 0 ? '0' : '2M'", "title": "Step"}}},
    "layer": [
      {"mark": {"type": "area", "opacity": 0.2},
       "encoding": {
         "y": {"field": "lo", "type": "quantitative", "scale": {"domain": [-6.7, 132.6], "nice": false, "zero": false}, "axis": {"values": [0, 50, 100], "title": null}},
         "y2": {"field": "hi"},
         "fill": {"field": "m", "type": "nominal", "scale": {"domain": ["VDN", "QMIX", "LDSA", "DIOMIX-VDN", "DIOMIX-QMIX"], "range": ["#9467bd", "#d62728", "#2ca02c", "#ff7f0e", "#1f77b4"]}, "legend": null}}},
      {"mark": {"type": "line", "strokeWidth": 2.3},
       "encoding": {
         "y": {"field": "y", "type": "quantitative", "axis": {"values": [0, 50, 100], "title": null}},
         "stroke": {"field": "m", "type": "nominal", "scale": {"domain": ["DIOMIX-QMIX", "DIOMIX-VDN", "LDSA", "QMIX", "VDN"], "range": ["#1f77b4", "#ff7f0e", "#2ca02c", "#d62728", "#9467bd"]}}}}
    ]
  }
],
"resolve": {"scale": {"x": "independent", "y": "independent", "stroke": "shared", "fill": "shared"}, "legend": {"stroke": "shared"}}
}
